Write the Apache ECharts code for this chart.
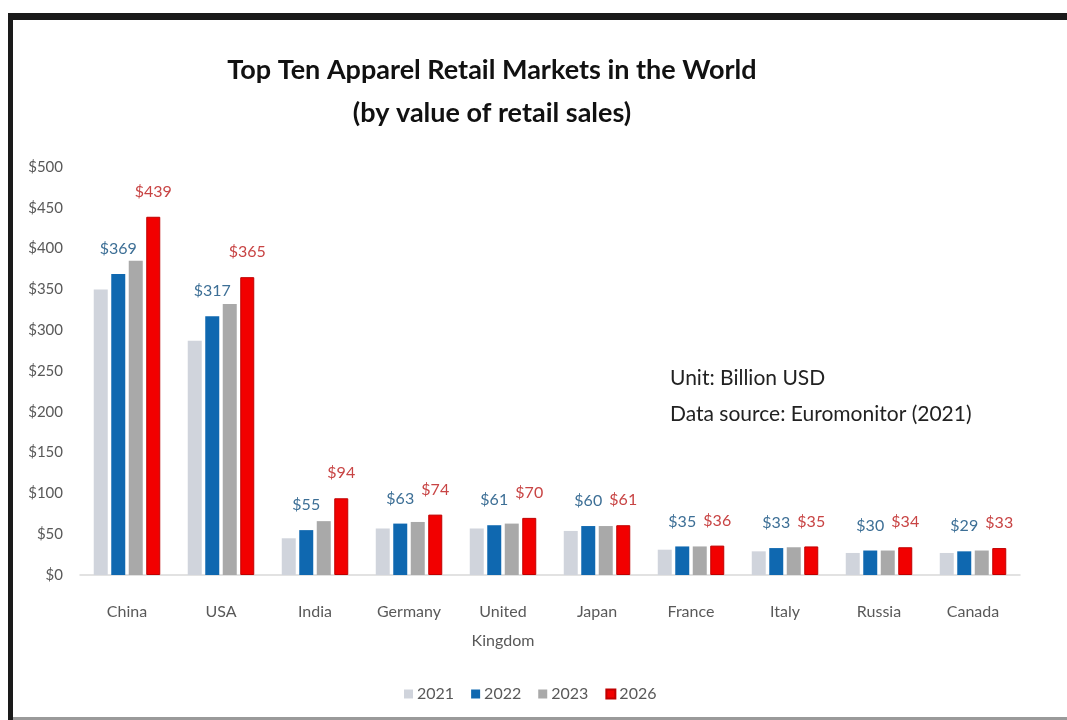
<!DOCTYPE html>
<html>
<head>
<meta charset="utf-8">
<style>
  html, body { margin: 0; padding: 0; background: #fff; }
  #chart { width: 1067px; height: 720px; }
</style>
<script src="https://cdn.jsdelivr.net/npm/echarts@6/dist/echarts.min.js"></script>
</head>
<body>
<div id="chart"></div>
<script>
// Apparel retail sales by country, billion USD
const countries = ['China', 'USA', 'India', 'Germany', 'United\nKingdom', 'Japan', 'France', 'Italy', 'Russia', 'Canada'];
const years = ['2021', '2022', '2023', '2026'];
const sales2021 = [350, 287, 45, 57, 57, 54, 31, 29, 27, 27];
const sales2022 = [369, 317, 55, 63, 61, 60, 35, 33, 30, 29];
const sales2023 = [385, 332, 66, 65, 63, 60, 35, 34, 30, 30];
const sales2026 = [439, 365, 94, 74, 70, 61, 36, 35, 34, 33];
const yTicks = [0, 500, 50]; // min, max, step

const FONT = 'Lato, "Open Sans", sans-serif';
const colors = ['#d0d4dc', '#0f68b0', '#a9a9a9', '#f20000'];

function barSeries(name, data, color, labelColor, border) {
  const s = {
    name: name,
    type: 'bar',
    data: data,
    barWidth: 14,
    barGap: '25%',
    itemStyle: { color: color },
    emphasis: { disabled: true }
  };
  if (border) {
    s.itemStyle.borderColor = border;
    s.itemStyle.borderWidth = 1;
  }
  if (labelColor) {
    s.label = {
      show: true,
      position: 'top',
      distance: 17,
      formatter: p => '$' + p.value,
      color: labelColor,
      fontFamily: FONT,
      fontSize: 16
    };
  }
  return s;
}

const chart = echarts.init(document.getElementById('chart'), null, { renderer: 'canvas' });
chart.setOption({
  animation: false,
  backgroundColor: '#ffffff',
  grid: { left: 80, right: 47, top: 167, bottom: 145 },
  legend: {
    data: years,
    left: 399,
    top: 681,
    itemWidth: 9,
    itemHeight: 9,
    itemGap: 17,
    icon: 'rect',
    textStyle: { color: '#595959', fontFamily: FONT, fontSize: 16, padding: [0, 0, 0, -1] }
  },
  xAxis: {
    type: 'category',
    data: countries,
    axisLine: { lineStyle: { color: '#d9d9d9', width: 1.5 } },
    axisTick: { show: false },
    axisLabel: {
      color: '#595959',
      fontFamily: FONT,
      fontSize: 16,
      margin: 22,
      lineHeight: 29,
      interval: 0
    }
  },
  yAxis: {
    type: 'value',
    min: yTicks[0],
    max: yTicks[1],
    interval: yTicks[2],
    splitLine: { show: false },
    axisLine: { show: false },
    axisTick: { show: false },
    axisLabel: {
      color: '#595959',
      fontFamily: FONT,
      fontSize: 15,
      margin: 17,
      formatter: v => '$' + v
    }
  },
  series: [
    barSeries(years[0], sales2021, colors[0]),
    barSeries(years[1], sales2022, colors[1], '#3d6f96'),
    barSeries(years[2], sales2023, colors[2]),
    barSeries(years[3], sales2026, colors[3], '#c84444', '#c00000')
  ],
  graphic: [
    // frame
    { type: 'rect', shape: { x: 8, y: 13, width: 1059, height: 7 }, style: { fill: '#1a1a1a' }, silent: true },
    { type: 'rect', shape: { x: 8, y: 13, width: 5, height: 707 }, style: { fill: '#1a1a1a' }, silent: true },
    { type: 'rect', shape: { x: 13, y: 717, width: 1054, height: 3 }, style: { fill: '#9a9a9a' }, silent: true },
    // title
    { type: 'text', x: 492, y: 70, style: { text: 'Top Ten Apparel Retail Markets in the World', textAlign: 'center', textVerticalAlign: 'middle', fill: '#111', font: 'bold 27px ' + FONT } },
    { type: 'text', x: 492, y: 113, style: { text: '(by value of retail sales)', textAlign: 'center', textVerticalAlign: 'middle', fill: '#111', font: 'bold 27px ' + FONT } },
    // notes
    { type: 'text', x: 670, y: 378, style: { text: 'Unit: Billion USD', textAlign: 'left', textVerticalAlign: 'middle', fill: '#222', font: '21px ' + FONT } },
    { type: 'text', x: 670, y: 414, style: { text: 'Data source: Euromonitor (2021)', textAlign: 'left', textVerticalAlign: 'middle', fill: '#222', font: '21px ' + FONT } }
  ]
});
</script>
</body>
</html>
